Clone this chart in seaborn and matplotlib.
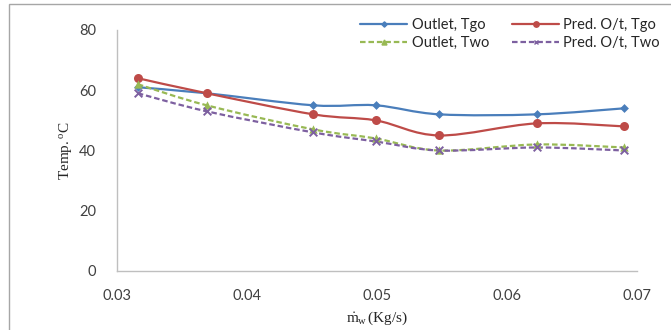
"""Temperatura de saída medida vs prevista em função da vazão mássica de água."""
import matplotlib
matplotlib.use("Agg")
import matplotlib.pyplot as plt
import numpy as np
import seaborn as sns
from matplotlib.lines import Line2D
from matplotlib.patches import PathPatch, Rectangle
from matplotlib.path import Path

# dados
vazao = [0.0316, 0.0369, 0.0451, 0.0499, 0.0548, 0.0623, 0.0690]
outlet_tgo = [61, 59, 55, 55, 52, 52, 54]
pred_tgo = [64, 59, 52, 50, 45, 49, 48]
outlet_two = [62, 55, 47, 44, 40, 42, 41]
pred_two = [59, 53, 46, 43, 40, 41, 40]

series = [
    ("Outlet, Tgo", outlet_tgo, "#4a7ebb", "-", "D", 4.5),
    ("Pred. O/t, Tgo", pred_tgo, "#be4b48", "-", "o", 6.5),
    ("Outlet, Two", outlet_two, "#98b954", (0, (2.5, 1.3)), "^", 6),
    ("Pred. O/t, Two", pred_two, "#7d60a0", (0, (2.5, 1.3)), "x", 5.5),
]

sns.set_theme(style="white")
plt.rcParams["font.family"] = ["Lato", "DejaVu Sans"]
plt.rcParams["mathtext.fontset"] = "custom"
plt.rcParams["mathtext.rm"] = "Liberation Serif"
plt.rcParams["mathtext.it"] = "Liberation Serif:italic"


def curva_suave(x, y):
    """Caminho Bezier tipo Excel (Catmull-Rom) passando pelos pontos."""
    p = np.column_stack([x, y]).astype(float)
    verts = [p[0]]
    codes = [Path.MOVETO]
    n = len(p)
    for i in range(n - 1):
        p0 = p[i - 1] if i > 0 else p[i]
        p3 = p[i + 2] if i + 2 < n else p[i + 1]
        c1 = p[i] + (p[i + 1] - p0) / 6
        c2 = p[i + 1] - (p3 - p[i]) / 6
        verts += [c1, c2, p[i + 1]]
        codes += [Path.CURVE4] * 3
    return Path(verts, codes)


fig = plt.figure(figsize=(6.71, 3.30), dpi=100)
ax = fig.add_axes([0.1744, 0.1788, 0.7750, 0.7303])

fig.patches.append(Rectangle((9 / 671, -0.1), 1.2, 1.1 - 4 / 330 + 0.0,
                             transform=fig.transFigure, fill=False,
                             edgecolor="#a6a6a6", linewidth=1.0))

handles = []
for nome, valores, cor, estilo, marcador, tam in series:
    ax.add_patch(PathPatch(curva_suave(vazao, valores), fill=False,
                           edgecolor=cor, linewidth=1.6, linestyle=estilo,
                           capstyle="butt"))
    sns.scatterplot(x=vazao, y=valores, marker=marcador, color=cor,
                    s=tam ** 2, edgecolor=cor if marcador != "x" else None,
                    linewidth=1.4 if marcador == "x" else 0, ax=ax, zorder=3)
    handles.append(Line2D([], [], color=cor, linestyle=estilo, linewidth=1.6,
                          marker=marcador, markersize=tam * 0.6,
                          markeredgewidth=1.0))

ax.set_xlim(0.03, 0.07)
ax.set_ylim(0, 80)
ax.set_xticks([0.03, 0.04, 0.05, 0.06, 0.07])
ax.set_xticklabels(["0.03", "0.04", "0.05", "0.06", "0.07"])
ax.set_yticks([0, 20, 40, 60, 80])
ax.tick_params(axis="x", length=0, pad=13, labelsize=10.5, colors="#404040")
ax.tick_params(axis="y", length=0, pad=15, labelsize=10.5, colors="#404040")
for lado in ("top", "right"):
    ax.spines[lado].set_visible(False)
for lado in ("left", "bottom"):
    ax.spines[lado].set_color("#bfbfbf")
    ax.spines[lado].set_linewidth(1.0)

ax.set_xlabel(r"$\dot{\mathrm{m}}_{\mathrm{w}}\,\mathrm{(Kg/s)}$", fontsize=11,
              labelpad=5, color="#262626")
ax.set_ylabel(r"$\mathrm{Temp.}^{\mathrm{o}}\mathrm{C}$", fontsize=11,
              labelpad=4, color="#262626")

fig.legend(handles=[handles[0], handles[2], handles[1], handles[3]],
           labels=[series[0][0], series[2][0], series[1][0], series[3][0]],
           ncol=2, loc="upper right", bbox_to_anchor=(1.003, 0.985),
           frameon=False, fontsize=10.5, handlelength=3.2, handletextpad=0.3,
           columnspacing=1.6, labelspacing=0.25, labelcolor="#262626")

fig.savefig("out.png", dpi=100)
